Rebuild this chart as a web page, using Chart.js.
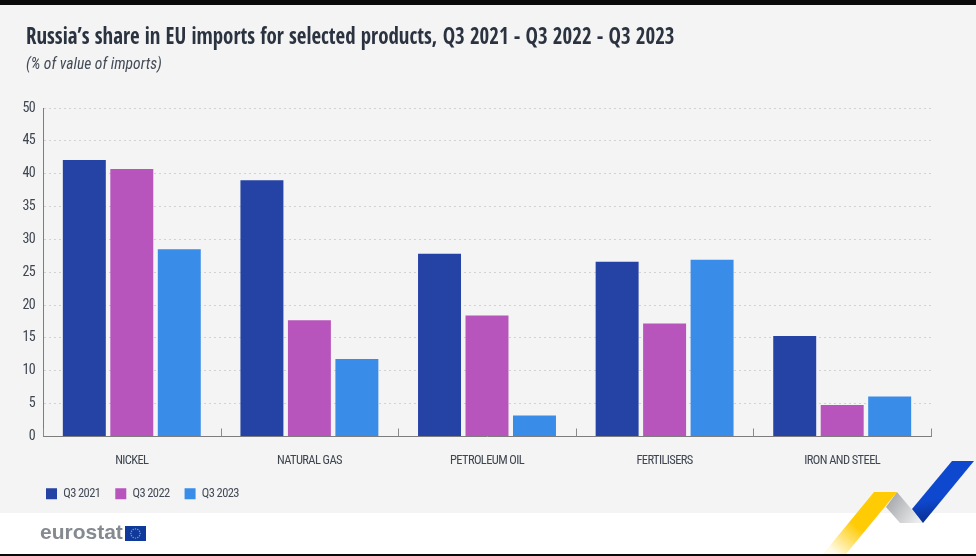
<!DOCTYPE html>
<html><head><meta charset="utf-8">
<style>
html,body{margin:0;padding:0;background:#fff;width:976px;height:556px;overflow:hidden}
#wrap{position:relative;width:976px;height:556px}
canvas{position:absolute;left:0;top:0}
.t{position:absolute;white-space:nowrap}
#title{left:26px;top:19px;font:bold 23px "Open Sans Condensed","Roboto Condensed",sans-serif;color:#2b3340;transform:scaleX(.909);transform-origin:0 0}
#sub{left:26px;top:54.5px;font:italic 15.6px "Roboto Condensed",sans-serif;color:#444b57}
#logo{left:40px;top:520px;font:bold 21px "Liberation Sans",sans-serif;color:#858a91}
</style>
<script src="https://cdn.jsdelivr.net/npm/chart.js@4/dist/chart.umd.min.js"></script>
</head><body>
<div id="wrap">
<canvas id="c" width="976" height="556"></canvas>
<div class="t" id="title">Russia’s share in EU imports for selected products, Q3 2021 - Q3 2022 - Q3 2023</div>
<div class="t" id="sub">(% of value of imports)</div>
<div class="t" id="logo">eurostat</div>
</div>
<script>
const categories = ["NICKEL","NATURAL GAS","PETROLEUM OIL","FERTILISERS","IRON AND STEEL"];
const q32021 = [42.1,39.0,27.8,26.6,15.3];
const q32022 = [40.7,17.7,18.4,17.2,4.8];
const q32023 = [28.5,11.8,3.2,26.9,6.1];
const seriesNames = ["Q3 2021","Q3 2022","Q3 2023"];
const seriesColors = ["#2542a5","#b755bc","#398ce8"];
const narrow = '"Roboto Condensed",sans-serif';

const backdrop = {
  id:'backdrop',
  beforeInit(chart){ chart.ctx.letterSpacing = '-0.6px'; },
  afterUpdate(chart){
    const l = chart.legend;
    l.left = 31; l.top = 472.5;
  },
  beforeDraw(chart){
    const g = chart.ctx;
    g.letterSpacing = '-0.6px';
    g.save();
    g.fillStyle = '#ffffff'; g.fillRect(0,0,976,556);
    g.fillStyle = '#f4f4f4'; g.fillRect(0,5,976,508);
    g.restore();
  },
  afterDraw(chart){
    const g = chart.ctx, x = chart.scales.x, y = chart.scales.y;
    g.save();
    g.strokeStyle = '#8a8a8a'; g.lineWidth = 1;
    const step = (x.right-x.left)/categories.length;
    for(let i=0;i<=categories.length;i++){
      const px = Math.round(x.left+step*i)+0.5;
      g.beginPath(); g.moveTo(px,y.bottom); g.lineTo(px,y.bottom-8); g.stroke();
    }
    let gr = g.createLinearGradient(890,500,920,520);
    gr.addColorStop(0,'#a9abaf'); gr.addColorStop(1,'#eeeeef');
    g.fillStyle = gr;
    g.beginPath(); g.moveTo(897,492); g.lineTo(923,523); g.lineTo(900,523); g.lineTo(886,507); g.closePath(); g.fill();
    gr = g.createLinearGradient(915,462,925,522);
    gr.addColorStop(0,'#0e48cf'); gr.addColorStop(0.65,'#0e48cf'); gr.addColorStop(1,'#0a2f92');
    g.fillStyle = gr;
    g.beginPath(); g.moveTo(952,461); g.lineTo(974,461); g.lineTo(923,523); g.lineTo(912,509); g.closePath(); g.fill();
    gr = g.createLinearGradient(880,500,835,553);
    gr.addColorStop(0,'#ffcb05'); gr.addColorStop(0.5,'#ffcb05'); gr.addColorStop(1,'#fffbe8');
    g.fillStyle = gr;
    g.beginPath(); g.moveTo(874,492); g.lineTo(897,492); g.lineTo(846,554); g.lineTo(823,554); g.closePath(); g.fill();
    g.fillStyle = '#0a0a0a'; g.fillRect(0,0,976,5); g.fillRect(0,554,976,2);
    g.fillStyle = '#0f3a9c'; g.fillRect(125,526,21,15);
    g.fillStyle = '#b5a642';
    for(let i=0;i<12;i++){
      const a = i*Math.PI/6;
      g.beginPath(); g.arc(135.5+4.6*Math.cos(a),533.5+4.6*Math.sin(a),0.7,0,7); g.fill();
    }
    g.restore();
  }
};

new Chart(document.getElementById('c'),{
  type:'bar',
  data:{labels:categories,datasets:[
    {label:seriesNames[0],data:q32021,backgroundColor:seriesColors[0]},
    {label:seriesNames[1],data:q32022,backgroundColor:seriesColors[1]},
    {label:seriesNames[2],data:q32023,backgroundColor:seriesColors[2]}
  ]},
  plugins:[backdrop],
  options:{
    responsive:false,animation:false,devicePixelRatio:1,
    layout:{padding:{left:0,right:45,top:108,bottom:33}},
    datasets:{bar:{categoryPercentage:0.802,barPercentage:0.905}},
    plugins:{
      title:{display:false},
      tooltip:{enabled:false},
      legend:{
        position:'bottom',align:'start',
        labels:{boxWidth:11,boxHeight:11,padding:15,color:'#444b57',font:{family:narrow,size:12.5}}
      }
    },
    scales:{
      x:{
        grid:{display:false,drawTicks:false},
        border:{display:true,color:'#7d7d7d',width:1},
        ticks:{color:'#3f4650',font:{family:narrow,size:12.5},padding:17,maxRotation:0}
      },
      y:{
        min:0,max:50,
        afterFit(s){s.width=43},
        grid:{color:'#d2d2d2',drawTicks:false,lineWidth:1},
        border:{display:true,color:'#7d7d7d',width:1,dash:[2,3]},
        ticks:{stepSize:5,color:'#3f4650',font:{family:narrow,size:14},padding:8}
      }
    }
  }
});
</script>
</body></html>
